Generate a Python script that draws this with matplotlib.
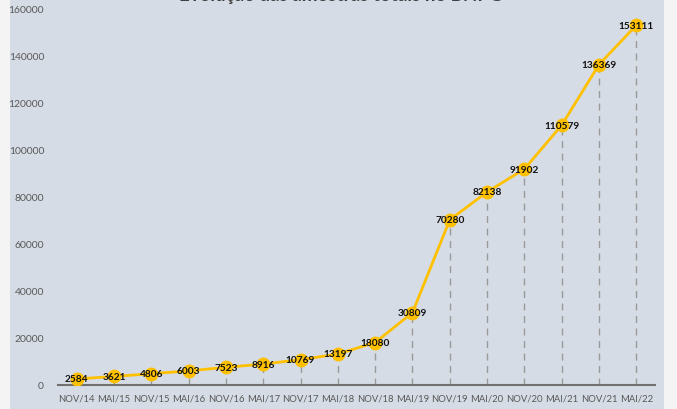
import matplotlib
matplotlib.use("Agg")
import matplotlib.pyplot as plt
from matplotlib.patches import Rectangle

categories = ["NOV/14", "MAI/15", "NOV/15", "MAI/16", "NOV/16", "MAI/17", "NOV/17", "MAI/18",
              "NOV/18", "MAI/19", "NOV/19", "MAI/20", "NOV/20", "MAI/21", "NOV/21", "MAI/22"]
values = [2584, 3621, 4806, 6003, 7523, 8916, 10769, 13197,
          18080, 30809, 70280, 82138, 91902, 110579, 136369, 153111]
yticks = [0, 20000, 40000, 60000, 80000, 100000, 120000, 140000, 160000]
title = "Evolução das amostras totais no BNPG"

plt.rcParams['font.family'] = ['Lato', 'DejaVu Sans']

fig = plt.figure(figsize=(6.77, 4.10), dpi=100)
fig.patch.set_facecolor("#f4f4f4")
fig.patches.append(Rectangle((10/677, 0), (664-10)/677, 1, transform=fig.transFigure,
                             facecolor="#d6dce5", edgecolor="none", zorder=-10))

ax = fig.add_axes([58/677, 1-386/410, (655-58)/677, (386-10)/410])
ax.set_facecolor("none")
ax.set_zorder(1)
x = list(range(len(categories)))

ax.vlines(x, 0, values, colors="#9a9a9a", linestyles=(0, (5, 4)), linewidth=1.0, zorder=1)
ax.plot(x, values, color="#ffc000", linewidth=2, zorder=2)
ax.plot(x, values, "o", color="#ffc000", markersize=10, markeredgewidth=0, zorder=3)
for xi, v in zip(x, values):
    ax.text(xi, v, str(v), ha="center", va="center", fontsize=7.3, fontweight="bold",
            color="#111111", zorder=4)

ax.set_xlim(-0.5, len(categories) - 0.5)
ax.set_ylim(0, 160000)
ax.set_yticks(yticks)
ax.set_yticklabels([str(t) for t in yticks])
ax.set_xticks(x)
ax.set_xticklabels(categories)
ax.tick_params(axis="both", length=0, colors="#595959")
ax.tick_params(axis="y", pad=10, labelsize=7.5)
ax.tick_params(axis="x", pad=6, labelsize=6.8)
for s in ["top", "right", "left"]:
    ax.spines[s].set_visible(False)
ax.spines["bottom"].set_color("#707070")
ax.spines["bottom"].set_linewidth(1.5)

fig.text(341/677, 1 + 4/410, title, ha="center", va="center", fontsize=13.5, fontweight="bold",
         color="#404040", zorder=5)

fig.savefig("out.png", dpi=100, facecolor=fig.get_facecolor())
